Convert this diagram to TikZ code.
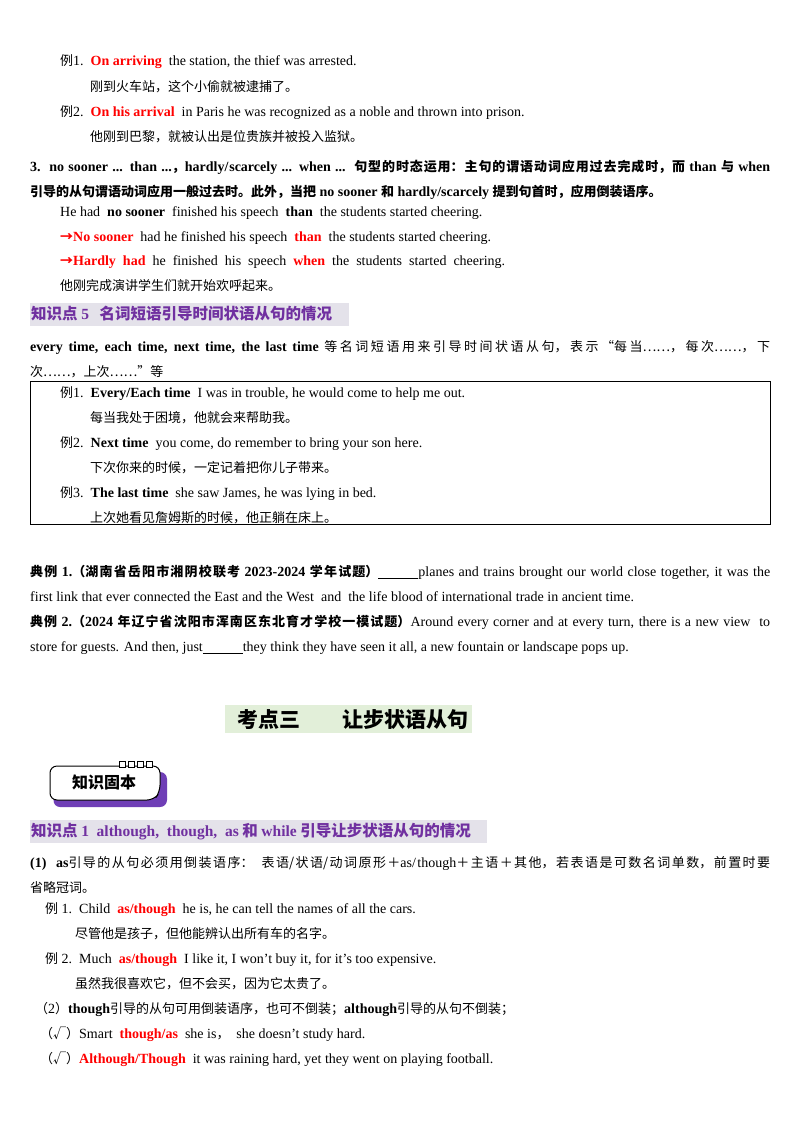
\documentclass[tikz,border=0pt]{standalone}
\usepackage{fontspec}
\setmainfont{Liberation Serif}
\newfontfamily\cjk{Noto Sans CJK SC}
\XeTeXlinebreaklocale "zh"
\XeTeXlinebreakskip=0pt plus 2pt
\definecolor{myred}{HTML}{FF0000}
\definecolor{mypurple}{HTML}{7030A0}
\definecolor{hbg}{HTML}{E4E2EA}
\definecolor{gbg}{HTML}{E2EFD9}
\newcommand\zh[1]{{\cjk\fontsize{13}{25}\selectfont #1}}
\newcommand\rb[1]{{\color{myred}\bfseries #1}}
\begin{document}
\begin{tikzpicture}[x=1pt,y=-1pt,
  t/.style={anchor=base west,inner sep=0pt,font=\fontsize{14}{25}\selectfont},
  para/.style={t,text width=740pt,align=justify,anchor=north west},
  hd/.style={anchor=base west,inner sep=0pt,font=\fontsize{15.5}{17}\selectfont\bfseries,text=mypurple}]
\useasboundingbox (0,0) rectangle (800,1132);
\fill[white] (0,0) rectangle (800,1132);
% top examples
\node[t] (a1) at (60,66) {\zh{例}1.\ \ \rb{On arriving}\ \ the station, the thief was arrested.};
\node[t] (a2) at (90,91) {\zh{刚到火车站，这个小偷就被逮捕了。}};
\node[t] (a3) at (60,116) {\zh{例}2.\ \ \rb{On his arrival}\ \ in Paris he was recognized as a noble and thrown into prison.};
\node[t] (a4) at (90,141) {\zh{他刚到巴黎，就被认出是位贵族并被投入监狱。}};
\node[para] (p3) at (30,160) {\bfseries 3.\ \ no sooner ... than ...\zh{，}hardly/scarcely ... when ...\ \ \zh{句型的时态运用：主句的谓语动词应用过去完成时，而} than \zh{与} when\linebreak \zh{引导的从句谓语动词应用一般过去时。此外，当把} no sooner \zh{和} hardly/scarcely \zh{提到句首时，应用倒装语序。}};
\node[t] (b1) at (60,216) {He had\ \ {\bfseries no sooner}\ \ finished his speech\ \ {\bfseries than}\ \ the students started cheering.};
\node[t] (b2) at (60,241) {\rb{\zh{→}No sooner}\ \ had he finished his speech\ \ \rb{than}\ \ the students started cheering.};
\node[t] (b3) at (60,265) {\rb{\zh{→}Hardly\ \ had}\ \ he\ \ finished\ \ his\ \ speech\ \ \rb{when}\ \ the\ \ students\ \ started\ \ cheering.};
\node[t] (b4) at (60,290) {\zh{他刚完成演讲学生们就开始欢呼起来。}};
% heading 5
\fill[hbg] (30,303) rectangle (349,326);
\node[hd] (h5) at (31,319) {\cjk 知识点 {\rmfamily 5}\ \ \ 名词短语引导时间状语从句的情况};
\node[para] (p5) at (30,340) {{\bfseries every time, each time, next time, the last time} \zh{等名词短语用来引导时间状语从句，表示“每当……，每次……，下}\linebreak\zh{次……，上次……”等}};
% box
\draw[line width=0.8pt] (30,381) rectangle (770,524);
\node[t] (c1) at (60,397) {\zh{例}1.\ \ {\bfseries Every/Each time}\ \ I was in trouble, he would come to help me out.};
\node[t] (c2) at (90,422) {\zh{每当我处于困境，他就会来帮助我。}};
\node[t] (c3) at (60,447) {\zh{例}2.\ \ {\bfseries Next time}\ \ you come, do remember to bring your son here.};
\node[t] (c4) at (90,472) {\zh{下次你来的时候，一定记着把你儿子带来。}};
\node[t] (c5) at (60,497) {\zh{例}3.\ \ {\bfseries The last time}\ \ she saw James, he was lying in bed.};
\node[t] (c6) at (90,522) {\zh{上次她看见詹姆斯的时候，他正躺在床上。}};
% dianli
\node[para] (d1) at (30,565) {{\bfseries\zh{典例} 1.\zh{（湖南省岳阳市湘阴校联考} 2023-2024 \zh{学年试题）}}\underline{\hspace{40pt}}planes and trains brought our world close together, it was the\linebreak first link that ever connected the East and the West\ \ and\ \ the life blood of international trade in ancient time.};
\node[para] (d2) at (30,615) {{\bfseries\zh{典例} 2.\zh{（}2024 \zh{年辽宁省沈阳市浑南区东北育才学校一模试题）}}Around every corner and at every turn, there is a new view\ \ to\linebreak store for guests. And then, just\underline{\hspace{40pt}}they think they have seen it all, a new fountain or landscape pops up.};
% title
\fill[gbg] (225,705) rectangle (472,733);
\node[anchor=base,inner sep=0pt,font=\fontsize{21}{22}\selectfont\bfseries] (tt) at (353,727) {\cjk 考点三\hspace{42pt}让步状语从句};
% badge
\fill[mypurple!85!blue!90] (56,772) [rounded corners=7pt] -- (167,772) -- (167,807) -- (53,807) -- cycle;
\draw[fill=white,line width=1pt,rounded corners=7pt] (50,766) -- (160,766) -- (160,792) -- (154,800) -- (50,800) -- cycle;
\foreach \i in {0,1,2,3}{\draw[fill=white,line width=0.8pt] (119+\i*9,761) rectangle (125+\i*9,767);}
\node[anchor=center,inner sep=0pt,font=\fontsize{16}{18}\selectfont\bfseries] (bd) at (104,782) {\cjk 知识固本};
% heading 1
\fill[hbg] (30,820) rectangle (487,843);
\node[hd] (h1) at (31,836) {\cjk 知识点 {\rmfamily 1\ \ although,\ \ though,\ \ as} 和 {\rmfamily while} 引导让步状语从句的情况};
\node[para] (e0) at (30,856) {{\bfseries (1)\ \ as}\zh{引导的从句必须用倒装语序：\ \ 表语/状语/动词原形＋}as/though\zh{＋主语＋其他，若表语是可数名词单数，前置时要}\linebreak\zh{省略冠词。}};
\node[t] (e1) at (45,913) {\zh{例} 1.\ \ Child\ \ \rb{as/though}\ \ he is, he can tell the names of all the cars.};
\node[t] (e2) at (75,938) {\zh{尽管他是孩子，但他能辨认出所有车的名字。}};
\node[t] (e3) at (45,963) {\zh{例} 2.\ \ Much\ \ \rb{as/though}\ \ I like it, I won't buy it, for it's too expensive.};
\node[t] (e4) at (75,988) {\zh{虽然我很喜欢它，但不会买，因为它太贵了。}};
\node[t] (e5) at (35,1013) {\zh{（}2\zh{）}{\bfseries though}\zh{引导的从句可用倒装语序，也可不倒装；}{\bfseries although}\zh{引导的从句不倒装；}};
\node[t] (e6) at (40,1038) {\zh{（√）}Smart\ \ \rb{though/as}\ \ she is\zh{，}\ \ she doesn't study hard.};
\node[t] (e7) at (40,1063) {\zh{（√）}\rb{Although/Though}\ \ it was raining hard, yet they went on playing football.};
\end{tikzpicture}
\end{document}
